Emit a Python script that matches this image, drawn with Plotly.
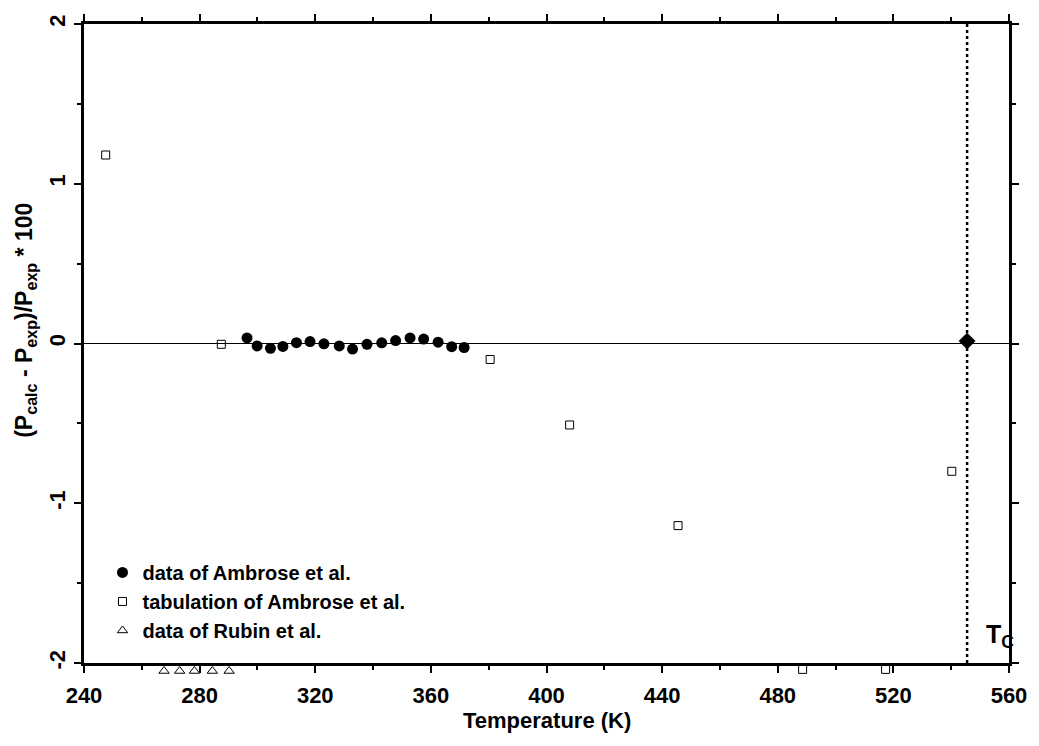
import plotly.graph_objects as go

# Ambrose et al. data (filled circles)
amb_T = [296.4, 299.9, 304.5, 308.8, 313.5, 318.2, 323.0, 328.3, 332.9, 337.9,
         343.0, 347.8, 352.8, 357.5, 362.5, 367.2, 371.5]
amb_dev = [0.035, -0.015, -0.03, -0.018, 0.005, 0.012, -0.002, -0.015, -0.035, -0.005,
           0.004, 0.018, 0.035, 0.028, 0.008, -0.02, -0.025]

# Tabulation of Ambrose et al. (open squares)
tab_T = [247.5, 287.5, 380.5, 408.0, 445.5, 488.6, 517.3, 540.2]
tab_dev = [1.18, -0.005, -0.10, -0.51, -1.14, -2.04, -2.04, -0.80]

# Rubin et al. data (open triangles)
rub_T = [267.7, 273.1, 278.2, 284.4, 290.2]
rub_dev = [-2.05, -2.05, -2.05, -2.05, -2.05]

# Critical point
tc_T = [545.5]
tc_dev = [0.015]

# axis ticks
y_ticks = [-2, -1, 0, 1, 2]
y_ticklabels = ["-2", "-1", "0", "1", "2"]

FONT = "Liberation Sans, Arial, sans-serif"

# geometry: main y axis spans 639 px for [-2, 2]; a second, hidden y axis
# extends 14 px lower so that marks just below -2 remain visible
Y_MAIN = [-2, 2]
EXTRA_PX = 14
PLOT_PX = 639
B_MARGIN = 83 - EXTRA_PX
TOTAL_PX = PLOT_PX + EXTRA_PX
low2 = Y_MAIN[0] - EXTRA_PX * (Y_MAIN[1] - Y_MAIN[0]) / PLOT_PX
dom0 = EXTRA_PX / TOTAL_PX

fig = go.Figure()
fig.add_trace(go.Scatter(
    x=amb_T, y=amb_dev, mode="markers", name="<b>data of Ambrose et al.</b>",
    marker=dict(symbol="circle", size=11, color="black")))
fig.add_trace(go.Scatter(
    x=tab_T, y=tab_dev, mode="markers", name="<b>tabulation of Ambrose et al.</b>",
    yaxis="y2", cliponaxis=False,
    marker=dict(symbol="square-open", size=8, color="black", line=dict(width=1))))
fig.add_trace(go.Scatter(
    x=rub_T, y=rub_dev, mode="markers", name="<b>data of Rubin et al.</b>",
    yaxis="y2", cliponaxis=False,
    marker=dict(symbol="triangle-up-open", size=9, color="black", line=dict(width=1))))
fig.add_trace(go.Scatter(
    x=tc_T, y=tc_dev, mode="markers", showlegend=False, cliponaxis=False,
    marker=dict(symbol="diamond", size=13, color="black")))

fig.add_shape(type="line", x0=tc_T[0], x1=tc_T[0], y0=-2, y1=2,
              line=dict(color="black", width=2.5, dash="dot"))

fig.add_annotation(x=551.5, y=-1.83, text="<b>T<sub>C</sub></b>", showarrow=False,
                   xanchor="left", yanchor="middle",
                   font=dict(family=FONT, size=25, color="black"))

fig.add_annotation(xref="paper", yref="paper", x=0.5,
                   y=dom0 - (57 / TOTAL_PX),
                   text="<b>Temperature (K)</b>", showarrow=False,
                   xanchor="center", yanchor="middle",
                   font=dict(family=FONT, size=22, color="black"))
fig.add_annotation(xref="paper", yref="paper", x=-0.064,
                   y=(746 - B_MARGIN - 320) / TOTAL_PX,
                   text="<b>(P<sub>calc</sub> - P<sub>exp</sub>)/P<sub>exp</sub> * 100</b>",
                   showarrow=False, textangle=-90,
                   xanchor="center", yanchor="middle",
                   font=dict(family=FONT, size=23, color="black"))

axis_common = dict(
    showline=True, linecolor="black", linewidth=2.5, mirror="ticks",
    ticks="outside", tickcolor="black", tickwidth=1.5, ticklen=7,
    showgrid=False,
    tickfont=dict(family=FONT, size=22, color="black", weight="bold"),
)

fig.update_layout(
    xaxis=dict(range=[240, 560], dtick=40, tick0=240, ticklabelstandoff=4,
               minor=dict(dtick=20, ticks="outside", ticklen=4, tickcolor="black"),
               zeroline=False, anchor="y", **axis_common),
    yaxis=dict(range=Y_MAIN, tickmode="array", tickvals=y_ticks, ticktext=y_ticklabels,
               tickangle=-90, domain=[dom0, 1],
               minor=dict(dtick=0.5, ticks="outside", ticklen=4, tickcolor="black"),
               zeroline=True, zerolinecolor="black", zerolinewidth=1,
               **axis_common),
    yaxis2=dict(range=[low2, Y_MAIN[1]], domain=[0, 1], anchor="x",
                visible=False, showgrid=False, zeroline=False),
    width=1039, height=746,
    margin=dict(l=84, r=19, t=24, b=B_MARGIN),
    paper_bgcolor="white", plot_bgcolor="rgba(0,0,0,0)",
    font=dict(family=FONT, color="black"),
    showlegend=True,
    legend=dict(x=0.02, y=dom0 + 0.02, xanchor="left", yanchor="bottom",
                bgcolor="rgba(0,0,0,0)", borderwidth=0,
                font=dict(family=FONT, size=20, color="black"),
                itemwidth=30, tracegroupgap=0),
)

fig.write_html("out.html")
